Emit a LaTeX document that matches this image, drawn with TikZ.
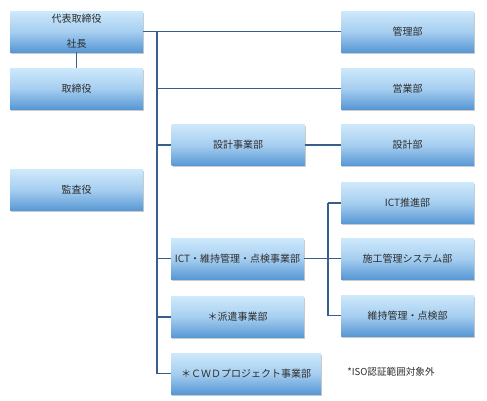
\documentclass[tikz,border=0pt]{standalone}
\usepackage{fontspec}
\setmainfont{Noto Sans CJK JP}
\usetikzlibrary{shadows}
\definecolor{boxtop}{RGB}{206,233,251}
\definecolor{boxmid}{RGB}{166,206,240}
\definecolor{boxbot}{RGB}{88,152,213}
\definecolor{linec}{RGB}{55,95,140}
\definecolor{txt}{RGB}{45,45,45}
\tikzset{
  orgbox/.style={rectangle, minimum width=133pt, minimum height=41pt, inner sep=1pt,
    top color=boxtop, bottom color=boxbot, middle color=boxmid,
    draw=none, text=txt, font=\fontsize{10pt}{12pt}\selectfont,
    drop shadow={shadow xshift=1pt, shadow yshift=-1.5pt, opacity=0.35, fill=black!60}},
  conn/.style={draw=linec, line width=1.6pt}
}
\begin{document}
\begin{tikzpicture}[x=1pt,y=-1pt]
\useasboundingbox (0,0) rectangle (487,400);
\node[orgbox, align=center] (pres) at (76.5,31.5) {代表取締役\\[13pt]社長};
\node[orgbox] (dir) at (76.5,88.5) {取締役};
\node[orgbox] (audit) at (76.5,190) {監査役};
\node[orgbox] (kanri) at (407.5,31.5) {管理部};
\node[orgbox] (eigyo) at (407.5,88.5) {営業部};
\node[orgbox] (sekkeiJ) at (238,145) {設計事業部};
\node[orgbox] (sekkei) at (407.5,145) {設計部};
\node[orgbox] (ictp) at (407.5,203) {ICT推進部};
\node[orgbox] (sekou) at (407.5,258.5) {施工管理システム部};
\node[orgbox] (iji) at (407.5,315.5) {維持管理・点検部};
\node[orgbox] (ictJ) at (237.5,258.5) {ICT・維持管理・点検事業部};
\node[orgbox] (haken) at (237.5,317) {＊派遣事業部};
\node[orgbox, minimum width=150pt] (cwd) at (246,373.5) {＊ＣＷＤプロジェクト事業部};
\node[text=txt, font=\fontsize{9.6pt}{11pt}\selectfont] (note) at (391,372) {*ISO認証範囲対象外};
\coordinate (t) at (157,32);
\coordinate (b) at (328,258.5);
\draw[conn] (pres.south) -- (dir.north);
\draw[conn] (pres.east |- kanri.west) -- (kanri.west);
\draw[conn] (t) |- (cwd.west);
\draw[conn] (t |- eigyo.west) -- (eigyo.west);
\draw[conn] (t |- sekkeiJ.west) -- (sekkeiJ.west);
\draw[conn] (sekkeiJ.east) -- (sekkei.west);
\draw[conn] (t |- ictJ.west) -- (ictJ.west);
\draw[conn] (t |- haken.west) -- (haken.west);
\draw[conn] (ictJ.east) -- (b);
\draw[conn] (b |- ictp.west) -- (ictp.west);
\draw[conn] (b |- ictp.west) -- (b |- iji.west) -- (iji.west);
\draw[conn] (b) -- (sekou.west);
\end{tikzpicture}
\end{document}
